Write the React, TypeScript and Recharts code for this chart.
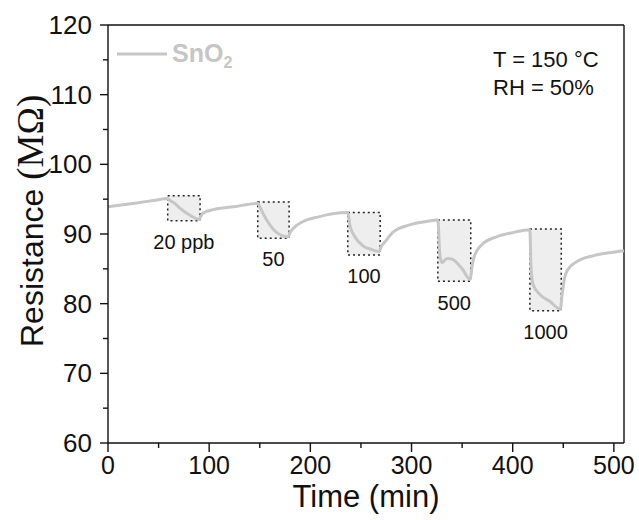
import React from "react"
import {
  LineChart,
  Line,
  XAxis,
  YAxis,
  ReferenceArea,
  ReferenceLine,
  Legend,
} from "recharts"

// time (min) and resistance (MΩ)
const time = [
  0, 15, 30, 45, 59, 61, 66, 71, 81, 90,
  92, 94, 104, 124, 148, 150, 153, 160, 166, 178,
  180, 183, 193, 209, 222, 237, 239, 244, 252, 260,
  268, 270, 274, 282, 298, 315, 326, 328, 330, 335,
  340, 350, 358, 360, 362, 369, 384, 400, 417, 418,
  420, 427, 437, 447, 449, 451, 454, 463, 480, 495, 510,
]
const resistance = [
  93.9, 94.2, 94.5, 94.8, 95.1, 94.85, 94.4, 93.7, 92.7, 92.1,
  92.6, 93.0, 93.5, 93.9, 94.4, 93.9, 93.0, 91.3, 90.3, 89.6,
  90.2, 90.8, 91.8, 92.5, 92.9, 93.1, 91.3, 89.6, 88.3, 87.8,
  87.5, 88.2, 88.9, 90.3, 91.3, 91.8, 92.0, 87.0, 85.9, 86.5,
  86.4, 85.0, 83.5, 85.5, 86.8, 88.4, 89.6, 90.2, 90.6, 85.5,
  82.8, 81.3, 80.3, 79.2, 81.5, 83.5, 84.8, 86.0, 86.9, 87.3, 87.6,
]

// gas exposure windows
const boxStart = [59, 148, 237, 326, 417]
const boxEnd = [91, 179, 269, 358.5, 448]
const boxLow = [91.9, 89.4, 87.0, 83.2, 79.0]
const boxHigh = [95.5, 94.6, 93.1, 92.0, 90.7]
const boxLabels = ["20 ppb", "50", "100", "500", "1000"]

const xTicks = [0, 50, 100, 150, 200, 250, 300, 350, 400, 450, 500]
const yTicks = [60, 65, 70, 75, 80, 85, 90, 95, 100, 105, 110, 115, 120]

const data = time.map((t, i) => ({ t, r: resistance[i] }))

const FONT = "'Liberation Sans', Arial, sans-serif"
const SERIF = "'Liberation Serif', 'Times New Roman', serif"
const LINE_COLOR = "#c6c6c6"

// eslint-disable-next-line @typescript-eslint/no-explicit-any
function XTick({ x, y, payload }: any) {
  const major = payload.value % 100 === 0
  return (
    <g>
      <line x1={x} x2={x} y1={y} y2={y + (major ? 9 : 5)} stroke="#111" strokeWidth={1.4} />
      {major && (
        <text x={x} y={y + 31} textAnchor="middle" fontSize={25} fill="#111" fontFamily={FONT}>
          {payload.value}
        </text>
      )}
    </g>
  )
}

// eslint-disable-next-line @typescript-eslint/no-explicit-any
function YTick({ x, y, payload }: any) {
  const major = payload.value % 10 === 0
  return (
    <g>
      <line x1={x} x2={x - (major ? 8 : 5)} y1={y} y2={y} stroke="#111" strokeWidth={1.4} />
      {major && (
        <text x={x - 16} y={y + 9} textAnchor="end" fontSize={26} fill="#111" fontFamily={FONT}>
          {payload.value}
        </text>
      )}
    </g>
  )
}

// eslint-disable-next-line @typescript-eslint/no-explicit-any
function YTitle({ viewBox }: any) {
  const x = viewBox.x + 43
  const y = viewBox.y + viewBox.height - 96
  return (
    <text x={x} y={y} transform={`rotate(-90 ${x} ${y})`} fontSize={32} fill="#111" fontFamily={FONT}>
      Resistance{" "}
      <tspan fontFamily={SERIF} fontSize={37}>(MΩ)</tspan>
    </text>
  )
}

// eslint-disable-next-line @typescript-eslint/no-explicit-any
function XTitle({ viewBox }: any) {
  return (
    <text
      x={viewBox.x + viewBox.width / 2}
      y={viewBox.y + 64}
      textAnchor="middle"
      fontSize={31}
      fill="#111"
      fontFamily={FONT}
    >
      Time (min)
    </text>
  )
}

function SnLegend() {
  return (
    <svg width={140} height={36} style={{ display: "block" }}>
      <line x1={2} x2={52} y1={20} y2={20} stroke={LINE_COLOR} strokeWidth={3} />
      <text x={57} y={28} fontSize={25} fontWeight="bold" fill={LINE_COLOR} fontFamily={FONT}>
        SnO
        <tspan fontSize={16} dy={6}>2</tspan>
      </text>
    </svg>
  )
}

export default function App() {
  return (
    <div style={{ position: "absolute", left: 0, top: 0, width: 639, height: 520, background: "#fff" }}>
      <LineChart
        width={639}
        height={520}
        data={data}
        margin={{ top: 25, right: 15, left: 0, bottom: 0 }}
        style={{ fontFamily: FONT }}
      >
        <XAxis
          dataKey="t"
          type="number"
          domain={[0, 510]}
          ticks={xTicks}
          interval={0}
          height={77}
          tickSize={0}
          tickMargin={0}
          tickLine={false}
          tick={<XTick />}
          axisLine={{ stroke: "#111", strokeWidth: 1.4 }}
          label={<XTitle />}
        />
        <YAxis
          type="number"
          domain={[60, 120]}
          ticks={yTicks}
          interval={0}
          width={108}
          tickSize={0}
          tickMargin={0}
          tickLine={false}
          tick={<YTick />}
          axisLine={{ stroke: "#111", strokeWidth: 1.4 }}
          label={<YTitle />}
        />
        {boxStart.map((s, i) => (
          <ReferenceArea
            key={boxLabels[i]}
            x1={s}
            x2={boxEnd[i]}
            y1={boxLow[i]}
            y2={boxHigh[i]}
            fill="#eeeeee"
            fillOpacity={1}
            stroke="#222"
            strokeWidth={1.5}
            strokeDasharray="2 3"
            label={{
              value: boxLabels[i],
              position: "bottom",
              offset: 14,
              fontSize: 20,
              fill: "#111",
              fontFamily: FONT,
            }}
          />
        ))}
        <ReferenceLine y={120} stroke="#111" strokeWidth={1.4} />
        <ReferenceLine x={510} stroke="#111" strokeWidth={1.4} />
        <Legend
          content={<SnLegend />}
          layout="horizontal"
          verticalAlign="middle"
          align="center"
          wrapperStyle={{ left: 115, top: 34, width: 140, height: 36 }}
        />
        <Line
          type="monotone"
          dataKey="r"
          name="SnO2"
          stroke={LINE_COLOR}
          strokeWidth={3}
          dot={false}
          activeDot={false}
          isAnimationActive={false}
        />
      </LineChart>
      <svg width={639} height={520} style={{ position: "absolute", left: 0, top: 0, pointerEvents: "none" }}>
        <text x={493} y={66.7} fontSize={22} fill="#111" fontFamily={FONT}>
          T = 150 °C
        </text>
        <text x={493} y={95} fontSize={22} fill="#111" fontFamily={FONT}>
          RH = 50%
        </text>
      </svg>
    </div>
  )
}
